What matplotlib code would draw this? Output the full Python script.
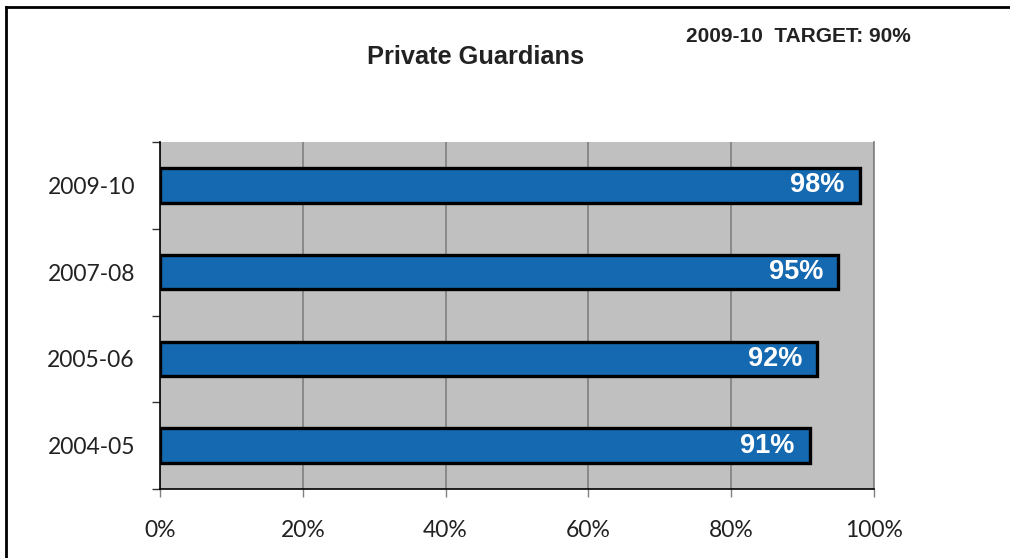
import matplotlib.pyplot as plt
import matplotlib.ticker as ticker
from matplotlib.lines import Line2D

# ── Data ──────────────────────────────────────────────────────────────────────
YEARS  = ['2004-05', '2005-06', '2007-08', '2009-10']
VALUES = [91, 92, 95, 98]
XTICKS = [0, 20, 40, 60, 80, 100]

BAR_COLOR  = '#1569b0'
PLOT_BG    = '#c0c0c0'
GRID_COLOR = '#808080'

fig = plt.figure(figsize=(10.10, 5.58), dpi=100)
ax = fig.add_axes([160 / 1010, 1 - 489 / 558, 714 / 1010, 347 / 558])
ax.set_facecolor(PLOT_BG)

ypos = list(range(len(YEARS)))
ax.barh(ypos, VALUES, height=0.4, color=BAR_COLOR,
        edgecolor='black', linewidth=2.4, zorder=3)

for y, v in zip(ypos, VALUES):
    ax.text(v - 2.1, y, f'{v}%', ha='right', va='center', color='white',
            fontsize=19.5, fontweight='bold', family='Liberation Sans', zorder=4)

ax.set_xlim(0, 100)
ax.set_ylim(-0.5, len(YEARS) - 0.5)

ax.set_xticks(XTICKS)
ax.set_xticklabels([f'{t}%' for t in XTICKS], family='Lato', fontsize=16.5,
                   color='#222222')
ax.tick_params(axis='x', length=6, width=1, color=GRID_COLOR, pad=16)
ax.xaxis.grid(True, color=GRID_COLOR, linewidth=1.2, zorder=1)
ax.set_axisbelow(True)

ax.set_yticks(ypos)
ax.set_yticklabels(YEARS, family='Lato', fontsize=16.5, color='#222222')
ax.yaxis.set_minor_locator(ticker.FixedLocator([i - 0.5 for i in range(len(YEARS) + 1)]))
ax.tick_params(axis='y', which='major', length=0, pad=18)
ax.tick_params(axis='y', which='minor', length=6, width=1, color='#333333')

ax.spines['top'].set_visible(False)
ax.spines['right'].set_color(GRID_COLOR)
ax.spines['right'].set_linewidth(1.2)
ax.spines['left'].set_color('black')
ax.spines['bottom'].set_color('black')
ax.spines['left'].set_linewidth(1.2)
ax.spines['bottom'].set_linewidth(1.2)

fig.text(476 / 1010, 1 - 57 / 558, 'Private Guardians', ha='center', va='center',
         fontsize=18.3, fontweight='bold', family='Liberation Sans', color='#222222')
fig.text(798 / 1010, 1 - 37 / 558, '2009-10  TARGET: 90%', ha='center', va='center',
         fontsize=15, fontweight='bold', family='Liberation Sans', color='#222222')

# chart frame (left and top edges)
fig.add_artist(Line2D([6 / 1010, 6 / 1010], [0, 1 - 7 / 558], color='black',
                      linewidth=2, transform=fig.transFigure))
fig.add_artist(Line2D([6 / 1010, 1], [1 - 7 / 558, 1 - 7 / 558], color='black',
                      linewidth=2, transform=fig.transFigure))

fig.savefig('out.png', dpi=100)
